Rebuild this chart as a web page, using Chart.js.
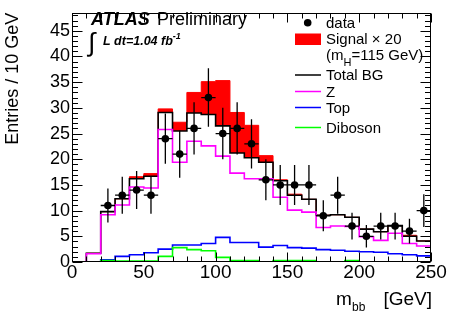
<!DOCTYPE html>
<html>
<head>
<meta charset="utf-8">
<script src="https://cdn.jsdelivr.net/npm/chart.js@4.4.0/dist/chart.umd.min.js"></script>
<style>
  html, body { margin: 0; padding: 0; background: #fff; }
  canvas { display: block; }
</style>
</head>
<body>
<canvas id="mbbChart" width="450" height="318"></canvas>
<script>
// m_bb distribution, 10 GeV bins
const binCenters = [5, 15, 25, 35, 45, 55, 65, 75, 85, 95, 105, 115, 125, 135, 145, 155, 165, 175, 185, 195, 205, 215, 225, 235, 245];
const binHalfWidth = 5;
const dataCounts = [null, null, 11, 13, 14, 13, 24, 21, 26, 32, 25, 26, 23, 16, 15, 15, 15, 9, 13, 7, 5, 7, 7, 6, 10];
const dataErrors = [null, null, 3.3, 3.6, 3.7, 3.6, 4.9, 4.6, 5.1, 5.7, 5.0, 5.1, 4.8, 4.0, 3.9, 3.9, 3.9, 3.0, 3.6, 2.6, 2.2, 2.6, 2.6, 2.4, 3.2];
const totalBG = [0, 1.7, 9.8, 12.3, 16.2, 16.7, 29.1, 25.5, 29.0, 28.7, 26.5, 21.2, 20.3, 19.4, 15.8, 13.0, 12.2, 9.1, 9.2, 8.7, 6.4, 5.9, 7.1, 5.0, 4.1];
const signalX20 = [0, 0, 0, 0, 0.4, 0.5, 0.7, 1.7, 4.0, 6.4, 8.8, 7.9, 6.3, 1.3, 0.2, 0.2, 0, 0, 0, 0, 0, 0, 0, 0.2, 0];
const zJets = [0, 1.6, 9.2, 11.1, 14.6, 14.4, 25.8, 19.4, 23.5, 22.6, 20.6, 17.3, 16.2, 16.2, 12.6, 10.1, 9.7, 6.7, 7.0, 6.9, 4.9, 4.2, 5.6, 3.6, 3.1];
const topBG = [0, 0, 0.45, 1.1, 1.4, 1.8, 2.5, 3.3, 3.3, 3.6, 4.8, 3.8, 3.8, 2.9, 3.2, 2.8, 2.7, 2.4, 2.3, 2.1, 2.0, 1.9, 1.6, 1.4, 1.2];
const diboson = [0, 0, 0.3, 0.2, 0.2, 0.2, 1.1, 2.8, 2.4, 2.2, 0.9, 0.3, 0.3, 0, 0.3, 0.3, 0.3, 0, 0, 0.3, 0, 0, 0, 0, 0];

const xTickValues = [0, 50, 100, 150, 200, 250];
const yTickValues = [0, 5, 10, 15, 20, 25, 30, 35, 40, 45];

const FONT = "'Liberation Sans', Arial, Helvetica, sans-serif";

// histogram outline: one point per low edge, plus the last high edge
function stepPoints(values) {
    const pts = binCenters.map((c, i) => ({ x: c - binHalfWidth, y: values[i] }));
    pts.push({ x: binCenters[binCenters.length - 1] + binHalfWidth, y: values[values.length - 1] });
    return pts;
}
const signalStack = totalBG.map((v, i) => v + signalX20[i]);

function histLine(label, values, color) {
    return {
        label: label,
        data: stepPoints(values),
        borderColor: color,
        borderWidth: 1.6,
        pointRadius: 0,
        stepped: true,
        fill: false
    };
}

const errorBars = {
    id: 'errorBars',
    afterDatasetsDraw(chart) {
        const { ctx, scales: { x, y } } = chart;
        ctx.save();
        ctx.strokeStyle = '#000';
        ctx.lineWidth = 1.3;
        ctx.beginPath();
        dataCounts.forEach((n, i) => {
            if (n === null) return;
            const cx = x.getPixelForValue(binCenters[i]);
            const cy = y.getPixelForValue(n);
            ctx.moveTo(cx, y.getPixelForValue(n - dataErrors[i]));
            ctx.lineTo(cx, y.getPixelForValue(n + dataErrors[i]));
            ctx.moveTo(x.getPixelForValue(binCenters[i] - binHalfWidth), cy);
            ctx.lineTo(x.getPixelForValue(binCenters[i] + binHalfWidth), cy);
        });
        ctx.stroke();
        ctx.restore();
    }
};

// ROOT style frame with ticks inside on all four sides
const frameTicks = {
    id: 'frameTicks',
    afterDraw(chart) {
        const { ctx, chartArea: a, scales: { x, y } } = chart;
        const L = Math.round(a.left) + 0.5, R = Math.round(a.right) - 0.5;
        const T = Math.round(a.top) + 0.5, B = Math.round(a.bottom) - 0.5;
        ctx.save();
        ctx.strokeStyle = '#000';
        ctx.lineWidth = 1;
        ctx.strokeRect(L, T, R - L, B - T);
        ctx.beginPath();
        for (let v = 0; v <= 250; v += 10) {
            const px = Math.round(x.getPixelForValue(v)) + 0.5;
            const len = v % 50 === 0 ? 9 : 5;
            ctx.moveTo(px, B); ctx.lineTo(px, B - len);
            ctx.moveTo(px, T); ctx.lineTo(px, T + len);
        }
        for (let v = 0; v <= 48; v += 1) {
            const py = Math.round(y.getPixelForValue(v)) + 0.5;
            const len = v % 5 === 0 ? 10 : 5.5;
            ctx.moveTo(L, py); ctx.lineTo(L + len, py);
            ctx.moveTo(R, py); ctx.lineTo(R - len, py);
        }
        ctx.stroke();
        ctx.restore();
    }
};

const labels = {
    id: 'labels',
    afterDraw(chart) {
        const ctx = chart.ctx;
        ctx.save();
        ctx.fillStyle = '#000';
        ctx.textBaseline = 'alphabetic';
        ctx.textAlign = 'left';

        // ATLAS Preliminary
        ctx.font = 'italic bold 18px ' + FONT;
        ctx.fillText('ATLAS', 91, 25);
        ctx.font = '18px ' + FONT;
        ctx.fillText('Preliminary', 157, 25);

        // luminosity
        ctx.font = '26px ' + FONT;
        ctx.fillText('\u222B', 88, 51);
        ctx.font = 'italic bold 12.5px ' + FONT;
        ctx.fillText('L dt=1.04 fb', 103, 45);
        const w = ctx.measureText('L dt=1.04 fb').width;
        ctx.font = 'italic bold 9px ' + FONT;
        ctx.fillText('-1', 103 + w, 39);

        // legend
        ctx.font = '15px ' + FONT;
        ctx.beginPath();
        ctx.arc(307.7, 22.7, 3.8, 0, Math.PI * 2);
        ctx.fill();
        ctx.fillText('data', 326, 27.5);

        ctx.fillStyle = '#ff0000';
        ctx.fillRect(295, 33.5, 26, 11.5);
        ctx.fillStyle = '#000';
        ctx.fillText('Signal \u00D7 20', 326, 44);
        ctx.fillText('(m', 326, 60);
        let xx = 326 + ctx.measureText('(m').width;
        ctx.font = '11px ' + FONT;
        ctx.fillText('H', xx, 66);
        xx += ctx.measureText('H').width;
        ctx.font = '15px ' + FONT;
        ctx.fillText('=115 GeV)', xx, 60);

        const lines = [['Total BG', '#000000', 75, 80], ['Z', '#ff00ff', 91.5, 96.7], ['Top', '#0000ff', 107.5, 113.3], ['Diboson', '#00ff00', 127.5, 133.3]];
        lines.forEach(([txt, col, ly, by]) => {
            ctx.strokeStyle = col;
            ctx.lineWidth = 1.5;
            ctx.beginPath();
            ctx.moveTo(295, ly); ctx.lineTo(321, ly);
            ctx.stroke();
            ctx.fillText(txt, 326, by);
        });

        // x axis title
        ctx.font = '19px ' + FONT;
        ctx.fillText('m', 336, 305);
        ctx.font = '12px ' + FONT;
        ctx.fillText('bb', 352, 311);
        ctx.font = '19px ' + FONT;
        ctx.textAlign = 'right';
        ctx.fillText('[GeV]', 432, 305);
        ctx.restore();
    }
};

const ctx = document.getElementById('mbbChart').getContext('2d');
new Chart(ctx, {
    type: 'line',
    data: {
        datasets: [
            {
                label: 'data',
                data: binCenters.map((c, i) => ({ x: c, y: dataCounts[i] })),
                showLine: false,
                pointRadius: 3.8,
                pointBackgroundColor: '#000',
                pointBorderColor: '#000',
                pointBorderWidth: 0
            },
            histLine('Diboson', diboson, '#00ff00'),
            histLine('Top', topBG, '#0000ff'),
            histLine('Z', zJets, '#ff00ff'),
            histLine('Total BG', totalBG, '#000000'),
            {
                label: 'Signal x 20',
                data: stepPoints(signalStack),
                borderColor: '#ff0000',
                borderWidth: 1,
                backgroundColor: '#ff0000',
                pointRadius: 0,
                stepped: true,
                fill: '-1'
            }
        ]
    },
    options: {
        responsive: false,
        devicePixelRatio: 1,
        animation: false,
        events: [],
        layout: { padding: { top: 5, right: 19, left: 0, bottom: 0 } },
        scales: {
            x: {
                type: 'linear',
                min: 0,
                max: 250,
                afterFit(scale) { scale.height = 56; },
                afterBuildTicks(scale) { scale.ticks = xTickValues.map(v => ({ value: v })); },
                grid: { display: false, drawTicks: false },
                border: { display: false },
                ticks: {
                    padding: -1,
                    color: '#000',
                    maxRotation: 0,
                    font: { family: FONT, size: 19 }
                }
            },
            y: {
                type: 'linear',
                min: 0,
                max: 48.5,
                afterFit(scale) { scale.width = 72; },
                afterBuildTicks(scale) { scale.ticks = yTickValues.map(v => ({ value: v })); },
                grid: { display: false, drawTicks: false },
                border: { display: false },
                ticks: {
                    padding: 2,
                    color: '#000',
                    font: { family: FONT, size: 18 }
                },
                title: {
                    display: true,
                    text: 'Entries / 10 GeV',
                    align: 'end',
                    color: '#000',
                    padding: { top: 2, bottom: 0 },
                    font: { family: FONT, size: 18 }
                }
            }
        },
        plugins: {
            legend: { display: false },
            tooltip: { enabled: false }
        }
    },
    plugins: [errorBars, frameTicks, labels]
});
</script>
</body>
</html>
